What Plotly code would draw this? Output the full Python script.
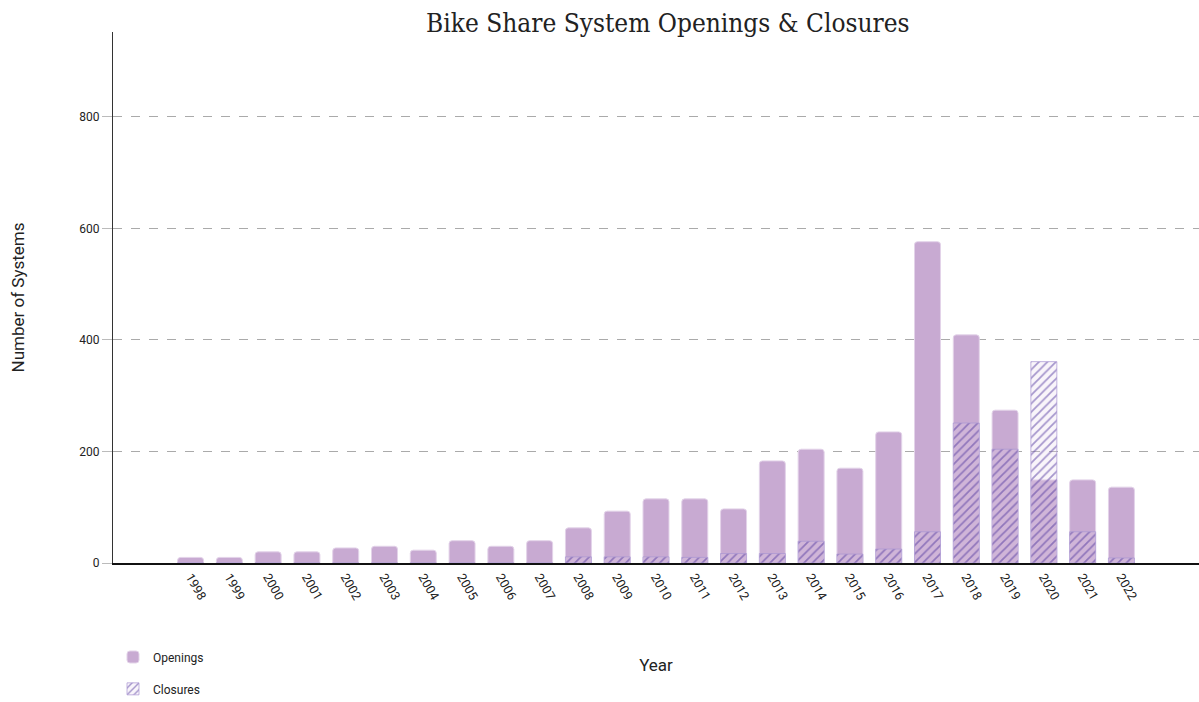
import plotly.graph_objects as go

years = list(range(1998, 2023))
openings = [10, 10, 20, 20, 27, 30, 23, 40, 30, 40, 63, 93, 115, 115, 97, 183, 204, 170, 235, 576, 409, 274, 149, 149, 136]
closures = [0, 0, 0, 0, 0, 0, 0, 0, 0, 0, 11, 11, 11, 10, 17, 17, 39, 16, 25, 56, 251, 204, 361, 56, 9]
y_ticks = [0, 200, 400, 600, 800]

font_body = "Roboto, 'DejaVu Sans Condensed', sans-serif"

fig = go.Figure()
fig.add_trace(go.Bar(
    x=years, y=openings, name="Openings", width=0.67, showlegend=True,
    marker=dict(color="#c8aad2", line=dict(color="#e3d3e9", width=1), cornerradius=3),
    legend="legend",
))
fig.add_trace(go.Bar(
    x=years, y=closures, name="Closures", width=0.67, showlegend=True,
    marker=dict(
        color="rgba(230,215,235,0.25)",
        line=dict(color="rgba(170,150,210,0.9)", width=0.8),
        pattern=dict(shape="/", fgcolor="#5238a0", size=6, solidity=0.3, fillmode="overlay"),
    ),
    legend="legend2",
))

fig.update_layout(
    barmode="overlay",
    showlegend=True,
    width=1199, height=702,
    margin=dict(l=113, r=0, t=32, b=139, autoexpand=False),
    plot_bgcolor="white", paper_bgcolor="white",
    title=dict(text="Bike Share System Openings & Closures", x=0.557, xanchor="center", y=0.968, yanchor="middle",
               font=dict(family="'DejaVu Serif Condensed', 'DejaVu Serif', serif", size=26, color="#222")),
    xaxis=dict(
        range=[1996, 2024], tickmode="array", tickvals=years, ticktext=[str(y) for y in years],
        tickangle=60, tickfont=dict(family=font_body, size=12.5, color="#222"),
        showgrid=False, showline=True, linecolor="#111", linewidth=1.5, zeroline=False,
        title=dict(text="Year", font=dict(family=font_body, size=17, color="#222"), standoff=58),
        automargin=False,
    ),
    yaxis=dict(
        range=[0, 952], tickmode="array", tickvals=y_ticks,
        tickfont=dict(family=font_body, size=12, color="#222"),
        showgrid=True, gridcolor="#aaaaaa", griddash="dash", gridwidth=1,
        showline=True, linecolor="#333", linewidth=1.2, zeroline=False,
        ticks="outside", ticklen=10, tickcolor="#bbbbbb",
        title=dict(text="Number of Systems", font=dict(family=font_body, size=17, color="#222"), standoff=50),
        automargin=False,
    ),
    legend=dict(x=0.0, y=-0.177, xanchor="left", yanchor="middle", visible=True,
                font=dict(family=font_body, size=12, color="#222"), bgcolor="rgba(0,0,0,0)"),
    legend2=dict(x=0.0, y=-0.237, xanchor="left", yanchor="middle", visible=True,
                 font=dict(family=font_body, size=12, color="#222"), bgcolor="rgba(0,0,0,0)"),
)

fig.write_html("out.html")
